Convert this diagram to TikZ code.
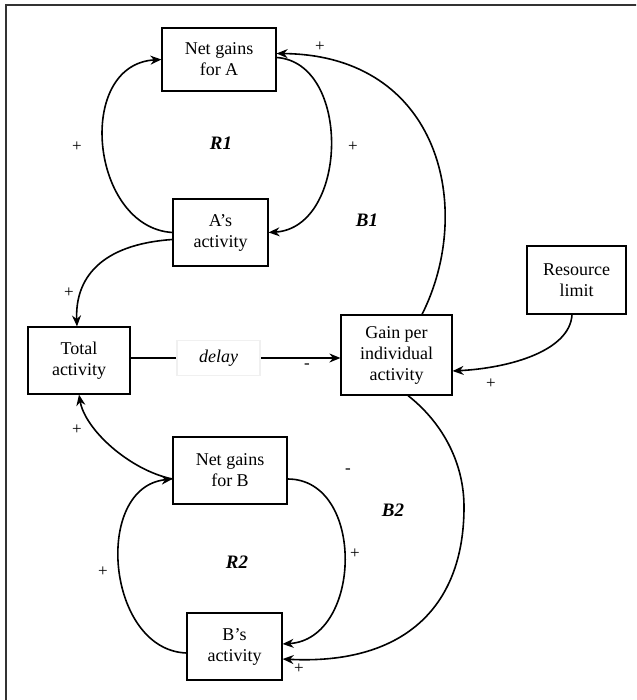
\documentclass[tikz,border=0pt]{standalone}
\usepackage{fontspec}
\setmainfont{Liberation Serif}
\usetikzlibrary{arrows.meta}

\begin{document}
\begin{tikzpicture}[x=1pt,y=-1pt,
    box/.style={draw,line width=1.2pt,align=center,inner sep=0pt,font=\rmfamily\fontsize{18}{21}\selectfont},
    link/.style={line width=1.6pt,-{Stealth[length=11pt,width=9pt]}},
    sign/.style={font=\rmfamily\fontsize{17}{17}\selectfont,inner sep=0pt},
    loopname/.style={font=\rmfamily\fontsize{19}{19}\selectfont\bfseries\itshape,inner sep=0pt}]
    \useasboundingbox (0,0) rectangle (636,700);
    \begin{scope}\clip (0,0) rectangle (636,700);
    \draw[line width=1.5pt,black!80] (6,710) -- (6,5) -- (646,5);
    \end{scope}
    % stocks
    \node[box,minimum width=114pt,minimum height=63pt] (netA) at (219,59.5) {Net gains\\for A};
    \node[box,minimum width=95pt,minimum height=67pt] (actA) at (220.5,232.5) {A’s\\activity};
    \node[box,minimum width=102pt,minimum height=67pt] (total) at (79,360.5) {Total\\activity};
    \node[box,minimum width=111pt,minimum height=80pt] (gain) at (396.5,355) {Gain per\\individual\\activity};
    \node[box,minimum width=99pt,minimum height=68pt] (res) at (576.5,280) {Resource\\limit};
    \node[box,minimum width=114pt,minimum height=67pt] (netB) at (230,470.5) {Net gains\\for B};
    \node[box,minimum width=95pt,minimum height=67pt] (actB) at (234.5,646.5) {B’s\\activity};
    \coordinate (b2turn) at (464,507);
    % loop R1
    \draw[link] (actA.west) .. controls +(-82,-5) and +(-87,5) .. (netA.west);
    \draw[link] ([yshift=2pt]netA.east) .. controls +(75,5) and +(80,-5) .. (actA.east);
    % loop B1
    \draw[link] ([xshift=25.5pt]gain.north) .. controls +(53,-105) and +(164,1.5) .. ([yshift=6pt]netA.east);
    \draw[link] ([yshift=-7pt]actA.west) .. controls +(-73,5) and +(-2,-47) .. ([xshift=-2pt]total.north);
    \draw[link] ([yshift=2.5pt]total.east) -- node[pos=0.42,fill=white,draw=black!6,minimum width=83pt,minimum height=35pt,font=\rmfamily\fontsize{18}{21}\selectfont\itshape] (dl) {delay} ([yshift=2.5pt]total.east -| gain.west);
    \draw[link] ([xshift=-4.5pt]res.south) .. controls +(-2,36) and +(58,-3) .. ([yshift=-16pt]gain.east);
    % loop B2
    \draw[link] ([xshift=11.5pt]gain.south) .. controls +(32,25) and +(0,-47) .. (b2turn) .. controls +(0,103) and +(118,6) .. ([yshift=-12.5pt]actB.east);
    \draw[link] ([yshift=-8.5pt]netB.west) .. controls +(-43,-9) and +(6,35) .. (total.south);
    % loop R2
    \draw[link] ([yshift=-6.5pt]actB.west) .. controls +(-80,-3) and +(-80,8) .. ([yshift=-8.5pt]netB.west);
    \draw[link] ([yshift=-8.5pt]netB.east) .. controls +(78,0) and +(80,-5) .. ([yshift=2.5pt]actB.east);
    % polarities
    \node[sign] (s1) at (320,47) {+};
    \node[sign] (s2) at (77,147) {+};
    \node[sign] (s3) at (353,147) {+};
    \node[sign] (s4) at (69,293) {+};
    \node[sign] (s5) at (307,366) {-};
    \node[sign] (s6) at (491,384) {+};
    \node[sign] (s7) at (77,430) {+};
    \node[sign] (s8) at (348,471) {-};
    \node[sign] (s9) at (355,554) {+};
    \node[sign] (s10) at (103,572) {+};
    \node[sign] (s11) at (299,669) {+};
    % loop names
    \node[loopname] (r1) at (221,143) {R1};
    \node[loopname] (b1) at (367,220) {B1};
    \node[loopname] (b2) at (393,510) {B2};
    \node[loopname] (r2) at (237,562) {R2};
\end{tikzpicture}
\end{document}
